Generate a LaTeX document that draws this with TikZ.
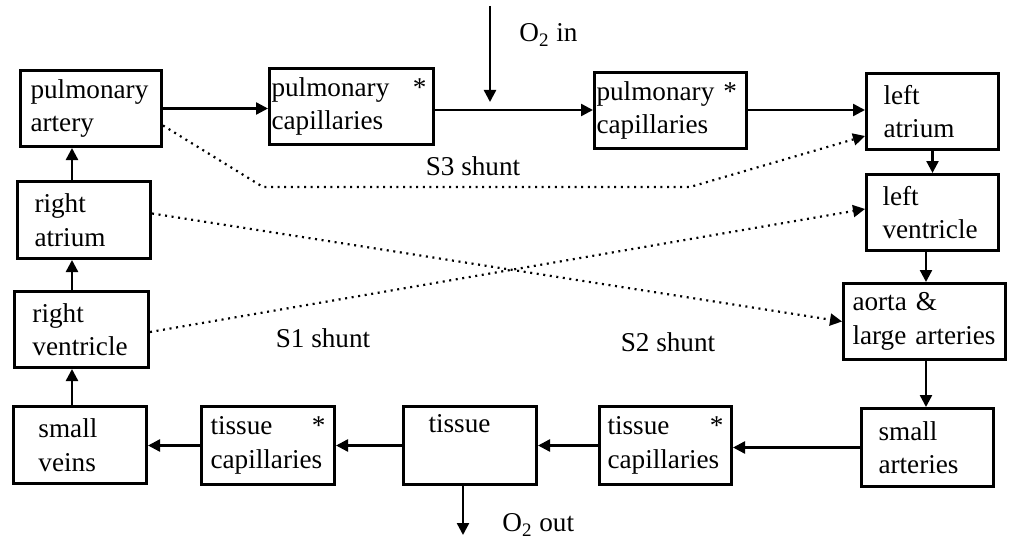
\documentclass[tikz,border=0pt]{standalone}
\usepackage{fontspec}
\setmainfont{Liberation Serif}
\usetikzlibrary{arrows.meta}
\hyphenpenalty=10000
\exhyphenpenalty=10000

\tikzset{
  organ/.style 2 args={draw, line width=1.5pt, anchor=north west, align=left,
                       text width=#1, inner xsep=#2, inner ysep=0pt,
                       minimum height=38pt},
  flow/.style={-{Triangle[length=6pt,width=6pt]}, line width=1.2pt},
  shunt/.style={-{Triangle[length=6pt,width=6pt]}, line width=1.1pt,
                dash pattern=on 1pt off 2.3pt},
  tag/.style={inner sep=0pt}
}

\begin{document}
\begin{tikzpicture}[x=0.5pt, y=-0.5pt, font=\fontsize{13.6}{16.8}\selectfont]
  \useasboundingbox (0,0) rectangle (1011,540);

  % lung side
  \node[organ={60.5pt}{5pt}]  (pa)  at (19,69)  {pulmonary\\artery};
  \node[organ={80pt}{1pt}]    (pc1) at (268,67) {pulmonary\hfill*\kern2.5pt\\capillaries};
  \node[organ={74pt}{1pt}]    (pc2) at (593,71) {pulmonary *\\capillaries};
  \node[organ={49pt}{8.5pt}]  (la)  at (865,72) {left\\atrium};
  \node[organ={50pt}{8pt}]    (lv)  at (865,173) {left\\ventricle};
  \node[organ={72pt}{4.5pt}]  (ao)  at (842,282) {aorta \&\\large arteries};

  % body side
  \node[organ={49pt}{8.5pt},minimum height=39pt]  (sa)  at (860,407) {small\\arteries};
  \node[organ={58pt}{4pt},minimum height=39pt]    (tcr) at (598,405) {tissue\hfill*\\capillaries};
  \node[organ={41.5pt}{12.5pt},minimum height=39pt] (ti) at (402,405) {tissue\\\strut};
  \node[organ={57.5pt}{4.5pt},minimum height=39pt]  (tcl) at (200,405) {tissue\hfill*\\capillaries};
  \node[organ={41.5pt}{12.5pt},minimum height=38.5pt] (sv) at (12,405) {small\\veins};
  \node[organ={49pt}{9pt}]    (rv)  at (13,290) {right\\ventricle};
  \node[organ={49.5pt}{8.5pt},minimum height=38.5pt] (ra) at (16,180) {right\\atrium};

  \coordinate (lcol) at (72,0);
  \coordinate (rcol) at (926,0);
  \coordinate (prow) at (0,110);
  \coordinate (o2top) at (490,6);
  \coordinate (o2tip) at (490,102);
  \coordinate (o2bot) at (463,535);
  \coordinate (s3a) at (263,187);
  \coordinate (s3b) at (690,187);

  % main circuit
  \draw[flow] (pa.east) -- (pa.east -| pc1.west);
  \draw[flow] (pc1.east |- prow) -- (pc2.west |- prow);
  \draw[flow] (pc2.east |- prow) -- (la.west |- prow);
  \draw[flow] (la) -- (lv);
  \draw[flow] (lv.south -| rcol) -- (ao.north -| rcol);
  \draw[flow] (ao.south -| rcol) -- (sa.north -| rcol);
  \draw[flow] (sa.west) -- (sa.west -| tcr.east);
  \draw[flow] (tcr.west) -- (tcr.west -| ti.east);
  \draw[flow] (ti.west) -- (ti.west -| tcl.east);
  \draw[flow] (tcl.west) -- (tcl.west -| sv.east);
  \draw[flow] (sv.north -| lcol) -- (rv.south -| lcol);
  \draw[flow] (rv.north -| lcol) -- (ra.south -| lcol);
  \draw[flow] (ra.north -| lcol) -- (pa.south -| lcol);

  % oxygen
  \draw[flow] (o2top) -- (o2tip);
  \node[tag,anchor=west] (o2in) at (519,35) {O\textsubscript{2} in};
  \draw[flow] (ti.south -| o2bot) -- (o2bot);
  \node[tag,anchor=west] (o2out) at (502,525) {O\textsubscript{2} out};

  % shunts
  \draw[shunt] ([yshift=-8.5pt]pa.east) -- (s3a) -- (s3b) -- ([yshift=-12.25pt]la.west);
  \draw[shunt] ([yshift=3.25pt]ra.east) -- (ao.west);
  \draw[shunt] ([yshift=-1.25pt]rv.east) -- ([yshift=1.75pt]lv.west);
  \node[tag] (s3) at (473,166) {S3 shunt};
  \node[tag] (s1) at (323,338) {S1 shunt};
  \node[tag] (s2) at (668,342) {S2 shunt};
\end{tikzpicture}
\end{document}
